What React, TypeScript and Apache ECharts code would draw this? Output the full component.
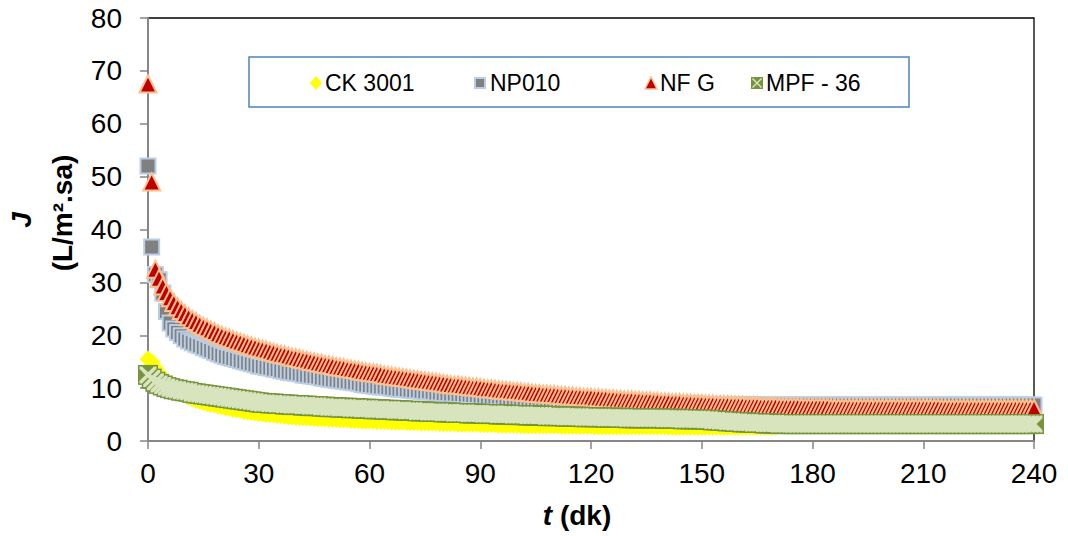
import React, { useEffect, useRef } from 'react';
import * as echarts from 'echarts';

// time grid (minutes), one sample per minute from 0 to 240
const T_START = 0;
const T_STEP = 1;

const X_TICKS = ['0', '30', '60', '90', '120', '150', '180', '210', '240'];
const Y_TICKS = ['0', '10', '20', '30', '40', '50', '60', '70', '80'];
const SERIES_NAMES = ['CK 3001', 'NP010', 'NF G', 'MPF - 36'];

// CK 3001 visible up to about 170 min (covered by MPF - 36 afterwards)
const CK_3001 = [
  15.5, 15.0, 13.8, 12.8, 12.0, 11.2, 10.5, 9.9, 9.4, 9.0,
  8.6, 8.3, 8.0, 7.7, 7.5, 7.3, 7.1, 6.9, 6.8, 6.6,
  6.5, 6.3, 6.2, 6.0, 5.9, 5.8, 5.6, 5.5, 5.4, 5.3,
  5.2, 5.1, 5.0, 5.0, 4.9, 4.8, 4.8, 4.7, 4.6, 4.6,
  4.5, 4.5, 4.4, 4.4, 4.3, 4.3, 4.2, 4.2, 4.2, 4.1,
  4.1, 4.1, 4.0, 4.0, 4.0, 3.9, 3.9, 3.9, 3.8, 3.8,
  3.8, 3.8, 3.7, 3.7, 3.7, 3.7, 3.6, 3.6, 3.6, 3.6,
  3.5, 3.5, 3.5, 3.5, 3.4, 3.4, 3.4, 3.4, 3.4, 3.3,
  3.3, 3.3, 3.3, 3.3, 3.2, 3.2, 3.2, 3.2, 3.2, 3.2,
  3.1, 3.1, 3.1, 3.1, 3.1, 3.0, 3.0, 3.0, 3.0, 3.0,
  3.0, 2.9, 2.9, 2.9, 2.9, 2.9, 2.9, 2.9, 2.9, 2.9,
  2.9, 2.9, 2.8, 2.8, 2.8, 2.8, 2.8, 2.8, 2.8, 2.8,
  2.8, 2.7, 2.7, 2.7, 2.7, 2.7, 2.7, 2.7, 2.7, 2.7,
  2.7, 2.7, 2.7, 2.7, 2.7, 2.7, 2.7, 2.7, 2.7, 2.7,
  2.7, 2.6, 2.6, 2.6, 2.6, 2.6, 2.6, 2.6, 2.6, 2.6,
  2.6, 2.6, 2.6, 2.6, 2.6, 2.6, 2.6, 2.6, 2.6, 2.6,
  2.6, 2.6, 2.6, 2.6, 2.6, 2.6, 2.6, 2.6, 2.6, 2.6,
  2.6,
];

const NP010 = [
  52.0, 36.7, 31.5, 30.5, 28.0, 24.5, 22.3, 21.2, 20.5, 19.9,
  19.3, 18.9, 18.6, 18.3, 18.0, 17.7, 17.4, 17.1, 16.8, 16.5,
  16.2, 16.0, 15.8, 15.6, 15.4, 15.2, 15.0, 14.8, 14.6, 14.4,
  14.2, 14.1, 13.9, 13.8, 13.6, 13.5, 13.3, 13.2, 13.0, 12.9,
  12.8, 12.7, 12.5, 12.4, 12.3, 12.2, 12.1, 11.9, 11.8, 11.7,
  11.6, 11.5, 11.4, 11.3, 11.2, 11.1, 11.0, 10.9, 10.7, 10.6,
  10.5, 10.4, 10.3, 10.2, 10.2, 10.1, 10.0, 9.9, 9.8, 9.8,
  9.7, 9.6, 9.5, 9.5, 9.4, 9.3, 9.3, 9.2, 9.1, 9.1,
  9.0, 9.0, 8.9, 8.9, 8.8, 8.8, 8.7, 8.7, 8.6, 8.6,
  8.5, 8.5, 8.4, 8.4, 8.4, 8.3, 8.3, 8.2, 8.2, 8.2,
  8.1, 8.1, 8.0, 8.0, 8.0, 7.9, 7.9, 7.9, 7.8, 7.8,
  7.7, 7.7, 7.7, 7.6, 7.6, 7.6, 7.5, 7.5, 7.5, 7.5,
  7.4, 7.4, 7.4, 7.3, 7.3, 7.3, 7.3, 7.3, 7.2, 7.2,
  7.2, 7.2, 7.2, 7.1, 7.1, 7.1, 7.1, 7.1, 7.0, 7.0,
  7.0, 7.0, 7.0, 7.0, 7.0, 7.0, 7.0, 7.0, 7.0, 7.0,
  6.9, 6.9, 6.9, 6.9, 6.9, 6.9, 6.9, 6.9, 6.9, 6.9,
  6.9, 6.9, 6.9, 6.9, 6.9, 6.8, 6.8, 6.8, 6.8, 6.8,
  6.8, 6.8, 6.8, 6.8, 6.8, 6.8, 6.8, 6.8, 6.8, 6.8,
  6.8, 6.8, 6.8, 6.8, 6.8, 6.8, 6.8, 6.8, 6.8, 6.8,
  6.8, 6.8, 6.8, 6.8, 6.8, 6.8, 6.8, 6.8, 6.8, 6.8,
  6.8, 6.8, 6.8, 6.8, 6.8, 6.8, 6.8, 6.8, 6.8, 6.8,
  6.8, 6.8, 6.8, 6.8, 6.8, 6.8, 6.8, 6.8, 6.8, 6.8,
  6.8, 6.8, 6.8, 6.8, 6.8, 6.8, 6.8, 6.8, 6.8, 6.8,
  6.8, 6.8, 6.8, 6.8, 6.8, 6.8, 6.8, 6.8, 6.8, 6.8,
  6.8,
];

const NF_G = [
  67.5, 49.0, 32.5, 30.8, 29.3, 28.1, 27.1, 26.2, 25.4, 24.7,
  24.1, 23.5, 23.0, 22.6, 22.1, 21.7, 21.4, 21.0, 20.7, 20.3,
  20.0, 19.7, 19.5, 19.2, 18.9, 18.7, 18.5, 18.2, 18.0, 17.8,
  17.6, 17.4, 17.2, 17.0, 16.8, 16.6, 16.4, 16.3, 16.1, 15.9,
  15.8, 15.6, 15.4, 15.3, 15.1, 15.0, 14.8, 14.7, 14.5, 14.4,
  14.3, 14.1, 14.0, 13.9, 13.7, 13.6, 13.5, 13.4, 13.2, 13.1,
  13.0, 12.9, 12.8, 12.7, 12.5, 12.4, 12.3, 12.2, 12.1, 12.0,
  11.9, 11.8, 11.7, 11.6, 11.5, 11.4, 11.3, 11.2, 11.1, 11.0,
  10.9, 10.8, 10.7, 10.6, 10.6, 10.5, 10.4, 10.3, 10.2, 10.2,
  10.1, 10.0, 9.9, 9.9, 9.8, 9.7, 9.6, 9.6, 9.5, 9.4,
  9.4, 9.3, 9.2, 9.2, 9.1, 9.0, 9.0, 8.9, 8.9, 8.8,
  8.8, 8.7, 8.6, 8.6, 8.5, 8.5, 8.4, 8.4, 8.3, 8.3,
  8.3, 8.2, 8.2, 8.1, 8.1, 8.0, 8.0, 7.9, 7.9, 7.8,
  7.8, 7.8, 7.7, 7.7, 7.6, 7.6, 7.6, 7.5, 7.5, 7.4,
  7.4, 7.4, 7.3, 7.3, 7.3, 7.2, 7.2, 7.2, 7.1, 7.1,
  7.1, 7.0, 7.0, 7.0, 6.9, 6.9, 6.9, 6.9, 6.8, 6.8,
  6.8, 6.8, 6.7, 6.7, 6.7, 6.7, 6.6, 6.6, 6.6, 6.6,
  6.6, 6.5, 6.5, 6.5, 6.5, 6.5, 6.5, 6.4, 6.4, 6.4,
  6.4, 6.4, 6.4, 6.4, 6.4, 6.3, 6.3, 6.3, 6.3, 6.3,
  6.3, 6.3, 6.3, 6.3, 6.3, 6.3, 6.3, 6.3, 6.3, 6.3,
  6.3, 6.3, 6.3, 6.3, 6.3, 6.3, 6.3, 6.3, 6.3, 6.3,
  6.3, 6.3, 6.3, 6.3, 6.3, 6.2, 6.2, 6.2, 6.2, 6.2,
  6.2, 6.2, 6.2, 6.2, 6.2, 6.2, 6.2, 6.2, 6.2, 6.2,
  6.2, 6.2, 6.2, 6.2, 6.2, 6.2, 6.2, 6.2, 6.2, 6.2,
  6.2,
];

const MPF_36 = [
  12.5, 11.8, 11.2, 10.8, 10.5, 10.2, 10.0, 9.8, 9.7, 9.5,
  9.4, 9.3, 9.1, 9.0, 8.9, 8.8, 8.7, 8.6, 8.5, 8.4,
  8.3, 8.2, 8.1, 8.0, 7.9, 7.8, 7.7, 7.6, 7.5, 7.4,
  7.3, 7.2, 7.2, 7.1, 7.1, 7.0, 7.0, 6.9, 6.9, 6.8,
  6.8, 6.8, 6.7, 6.7, 6.6, 6.6, 6.6, 6.5, 6.5, 6.4,
  6.4, 6.4, 6.3, 6.3, 6.3, 6.2, 6.2, 6.2, 6.1, 6.1,
  6.1, 6.0, 6.0, 6.0, 5.9, 5.9, 5.9, 5.8, 5.8, 5.8,
  5.7, 5.7, 5.7, 5.6, 5.6, 5.6, 5.5, 5.5, 5.5, 5.5,
  5.4, 5.4, 5.4, 5.3, 5.3, 5.3, 5.3, 5.2, 5.2, 5.2,
  5.2, 5.1, 5.1, 5.1, 5.1, 5.0, 5.0, 5.0, 5.0, 4.9,
  4.9, 4.9, 4.9, 4.8, 4.8, 4.8, 4.8, 4.8, 4.7, 4.7,
  4.7, 4.7, 4.7, 4.6, 4.6, 4.6, 4.6, 4.6, 4.5, 4.5,
  4.5, 4.5, 4.5, 4.5, 4.4, 4.4, 4.4, 4.4, 4.4, 4.4,
  4.3, 4.3, 4.3, 4.3, 4.3, 4.3, 4.3, 4.3, 4.3, 4.3,
  4.2, 4.2, 4.2, 4.2, 4.2, 4.1, 4.1, 4.1, 4.1, 4.1,
  4.1, 4.0, 4.0, 3.9, 3.9, 3.8, 3.8, 3.7, 3.7, 3.6,
  3.6, 3.5, 3.5, 3.5, 3.4, 3.4, 3.4, 3.3, 3.3, 3.3,
  3.3, 3.2, 3.2, 3.2, 3.2, 3.2, 3.2, 3.2, 3.2, 3.2,
  3.2, 3.2, 3.2, 3.2, 3.2, 3.2, 3.2, 3.2, 3.2, 3.2,
  3.2, 3.2, 3.2, 3.2, 3.2, 3.2, 3.2, 3.2, 3.2, 3.2,
  3.2, 3.2, 3.2, 3.2, 3.2, 3.2, 3.2, 3.2, 3.2, 3.2,
  3.2, 3.2, 3.2, 3.2, 3.2, 3.2, 3.2, 3.2, 3.2, 3.2,
  3.2, 3.2, 3.2, 3.2, 3.2, 3.2, 3.2, 3.2, 3.2, 3.2,
  3.2, 3.2, 3.2, 3.2, 3.2, 3.2, 3.2, 3.2, 3.2, 3.2,
  3.2,
];

const FONT = '"Liberation Sans", Arial, Helvetica, sans-serif';
const X_PATH =
  'path://M0,0L3,0L10,7L17,0L20,0L20,3L13,10L20,17L20,20L17,20L10,13L3,20L0,20L0,17L7,10L0,3Z';

function toPairs(values: number[]) {
  return values.map((v, i) => [T_START + i * T_STEP, v]);
}

export default function App() {
  const ref = useRef<HTMLDivElement>(null);

  useEffect(() => {
    if (!ref.current) return;
    const chart = echarts.init(ref.current, undefined, { renderer: 'svg' });

    const xNum = X_TICKS.map(Number);
    const yNum = Y_TICKS.map(Number);

    const legendText = (text: string, x: number) => ({
      type: 'text',
      x,
      y: 83,
      z: 11,
      style: {
        text,
        fontSize: 23,
        fontFamily: FONT,
        fill: '#000',
        align: 'left',
        verticalAlign: 'middle',
      },
    });

    const option: any = {
      animation: false,
      textStyle: { fontFamily: FONT },
      grid: {
        left: 148,
        right: 34,
        top: 18,
        bottom: 95,
        show: true,
        borderColor: '#000',
        borderWidth: 1.3,
        backgroundColor: 'transparent',
      },
      xAxis: {
        type: 'value',
        min: xNum[0],
        max: xNum[xNum.length - 1],
        interval: 30,
        splitLine: { show: false },
        axisLine: { show: true, onZero: false, lineStyle: { color: '#868686', width: 2 } },
        axisTick: { show: true, inside: false, length: 8, lineStyle: { color: '#868686', width: 1.5 } },
        axisLabel: { color: '#000', fontSize: 28, margin: 18, fontFamily: FONT },
      },
      yAxis: {
        type: 'value',
        min: yNum[0],
        max: yNum[yNum.length - 1],
        interval: 10,
        splitLine: { show: false },
        axisLine: { show: true, onZero: false, lineStyle: { color: '#868686', width: 2 } },
        axisTick: { show: true, inside: false, length: 8, lineStyle: { color: '#868686', width: 1.5 } },
        axisLabel: { color: '#000', fontSize: 28, margin: 26, fontFamily: FONT },
      },
      series: [
        {
          name: SERIES_NAMES[0],
          type: 'scatter',
          data: toPairs(CK_3001),
          symbol: 'diamond',
          symbolSize: 17,
          clip: false,
          silent: true,
          itemStyle: { color: '#FFFF00', opacity: 1 },
        },
        {
          name: SERIES_NAMES[1],
          type: 'scatter',
          data: toPairs(NP010),
          symbol: 'rect',
          symbolSize: 15,
          clip: false,
          silent: true,
          itemStyle: { color: '#808080', borderColor: '#B9CDE5', borderWidth: 2, opacity: 1 },
        },
        {
          name: SERIES_NAMES[2],
          type: 'scatter',
          data: toPairs(NF_G),
          symbol: 'triangle',
          symbolSize: 17,
          clip: false,
          silent: true,
          itemStyle: { color: '#C00000', borderColor: '#FAC090', borderWidth: 2, opacity: 1 },
        },
        {
          name: SERIES_NAMES[3],
          type: 'scatter',
          data: toPairs(MPF_36),
          symbol: 'rect',
          symbolSize: 20,
          clip: false,
          silent: true,
          itemStyle: { color: '#77933C', opacity: 1 },
        },
        {
          name: SERIES_NAMES[3] + ' ×',
          type: 'scatter',
          data: toPairs(MPF_36),
          symbol: X_PATH,
          symbolSize: 17,
          clip: false,
          silent: true,
          itemStyle: { color: '#D7E4BD', opacity: 1 },
        },
      ],
      graphic: [
        // legend box
        {
          type: 'rect',
          z: 10,
          shape: { x: 249, y: 57, width: 660, height: 50 },
          style: { fill: '#fff', stroke: '#4F81BD', lineWidth: 1.5 },
        },
        {
          type: 'polygon',
          z: 11,
          shape: { points: [[316, 76], [322, 83], [316, 90], [310, 83]] },
          style: { fill: '#FFFF00' },
        },
        legendText(SERIES_NAMES[0], 325),
        {
          type: 'rect',
          z: 11,
          shape: { x: 475, y: 78, width: 10, height: 10 },
          style: { fill: '#808080', stroke: '#B9CDE5', lineWidth: 2 },
        },
        legendText(SERIES_NAMES[1], 490),
        {
          type: 'polygon',
          z: 11,
          shape: { points: [[651, 77], [657, 89], [645, 89]] },
          style: { fill: '#C00000', stroke: '#FAC090', lineWidth: 1.5 },
        },
        legendText(SERIES_NAMES[2], 660),
        {
          type: 'rect',
          z: 11,
          shape: { x: 751, y: 77, width: 12, height: 12 },
          style: { fill: '#77933C' },
        },
        {
          type: 'line',
          z: 12,
          shape: { x1: 752.5, y1: 78.5, x2: 761.5, y2: 87.5 },
          style: { stroke: '#D7E4BD', lineWidth: 1.5 },
        },
        {
          type: 'line',
          z: 12,
          shape: { x1: 761.5, y1: 78.5, x2: 752.5, y2: 87.5 },
          style: { stroke: '#D7E4BD', lineWidth: 1.5 },
        },
        legendText(SERIES_NAMES[3], 766),
        // y axis title (two lines, rotated)
        {
          type: 'text',
          x: 21,
          y: 220,
          rotation: Math.PI / 2,
          style: {
            text: 'J',
            fontSize: 28,
            fontWeight: 'bold',
            fontStyle: 'italic',
            fontFamily: FONT,
            fill: '#000',
            align: 'center',
            verticalAlign: 'middle',
          },
        },
        {
          type: 'text',
          x: 62,
          y: 213,
          rotation: Math.PI / 2,
          style: {
            text: '(L/m².sa)',
            fontSize: 28,
            fontWeight: 'bold',
            fontFamily: FONT,
            fill: '#000',
            align: 'center',
            verticalAlign: 'middle',
          },
        },
        // x axis title
        {
          type: 'text',
          x: 577,
          y: 515,
          style: {
            text: '{a|t}{b| (dk)}',
            align: 'center',
            verticalAlign: 'middle',
            fill: '#000',
            rich: {
              a: { fontSize: 28, fontWeight: 'bold', fontStyle: 'italic', fontFamily: FONT, fill: '#000' },
              b: { fontSize: 28, fontWeight: 'bold', fontFamily: FONT, fill: '#000' },
            },
          },
        },
      ],
    };

    chart.setOption(option);
    return () => {
      chart.dispose();
    };
  }, []);

  return (
    <div
      ref={ref}
      style={{ position: 'fixed', left: 0, top: 0, width: 1068, height: 536, background: '#fff' }}
    />
  );
}
